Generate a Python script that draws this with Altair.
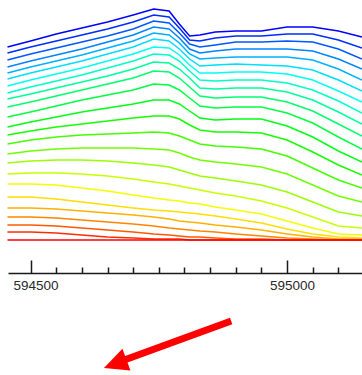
import altair as alt
import pandas as pd
import colorsys

# Easting positions (m) at which each contour trace was read
easting = [594455, 594500, 594550, 594600, 594650, 594700, 594740, 594770, 594790,
           594810, 594830, 594860, 594900, 594950, 595000, 595050, 595100, 595146]

# Depth of each trace (top = 1st) at the eastings above
c01 = [47, 41, 34, 28, 22, 15, 9, 11, 24, 36, 35, 32, 31, 31, 27, 27, 31, 37]
c02 = [53, 47, 41, 35, 29, 22, 15, 17, 28, 40, 41, 38, 36, 36, 34, 34, 40, 48]
c03 = [60, 54, 48, 42, 36, 29, 21, 23, 33, 44, 47, 45, 42, 42, 41, 42, 49, 59]
c04 = [67, 61, 55, 49, 42, 35, 27, 29, 38, 49, 53, 51, 49, 49, 49, 51, 59, 69]
c05 = [73, 67, 61, 55, 48, 41, 33, 35, 43, 54, 59, 58, 57, 57, 57, 60, 69, 80]
c06 = [79, 73, 67, 61, 54, 47, 39, 41, 49, 59, 66, 65, 64, 65, 66, 70, 80, 91]
c07 = [86, 80, 74, 68, 61, 54, 47, 48, 55, 65, 73, 73, 72, 72, 74, 80, 91, 102]
c08 = [93, 87, 81, 75, 68, 61, 54, 55, 61, 71, 80, 81, 80, 80, 83, 90, 101, 113]
c09 = [99, 94, 88, 82, 76, 69, 62, 63, 69, 78, 88, 89, 88, 88, 92, 100, 112, 124]
c10 = [107, 102, 96, 90, 84, 78, 71, 72, 78, 87, 96, 98, 97, 97, 102, 111, 124, 136]
c11 = [117, 112, 106, 100, 95, 90, 84, 85, 90, 98, 106, 108, 107, 107, 113, 123, 137, 149]
c12 = [127, 122, 117, 112, 108, 104, 100, 100, 104, 111, 118, 120, 119, 119, 126, 137, 151, 162]
c13 = [135, 131, 127, 124, 121, 118, 116, 116, 119, 125, 130, 132, 132, 133, 140, 152, 165, 175]
c14 = [144, 140, 137, 135, 134, 133, 132, 133, 136, 140, 144, 146, 147, 149, 156, 168, 180, 188]
c15 = [154, 151, 149, 148, 148, 148, 149, 150, 153, 157, 160, 162, 164, 167, 174, 185, 196, 202]
c16 = [163, 161, 160, 160, 161, 163, 165, 167, 170, 173, 176, 178, 181, 185, 192, 202, 212, 216]
c17 = [174, 173, 173, 174, 176, 179, 182, 184, 186, 188, 190, 193, 196, 201, 208, 217, 226, 228]
c18 = [184, 184, 185, 188, 191, 195, 198, 200, 201, 203, 204, 207, 210, 214, 221, 228, 234, 235]
c19 = [197, 197, 199, 202, 205, 208, 210, 211, 212, 213, 214, 216, 219, 223, 229, 234, 237, 238]
c20 = [208, 208, 209, 211, 213, 215, 217, 219, 221, 222, 223, 225, 227, 230, 234, 237, 239, 239]
c21 = [217, 217, 218, 220, 222, 224, 226, 228, 229, 230, 231, 232, 234, 236, 238, 239, 240, 240]
c22 = [225, 225, 226, 228, 230, 232, 234, 235, 236, 237, 237, 238, 239, 239, 240, 240, 240, 240]
c23 = [232, 232, 233, 235, 237, 238, 239, 239, 239, 240, 240, 240, 240, 240, 240, 240, 240, 240]
c24 = [240, 240, 240, 240, 240, 240, 240, 240, 240, 240, 240, 240, 240, 240, 240, 240, 240, 240]

traces = [c01, c02, c03, c04, c05, c06, c07, c08, c09, c10, c11, c12,
          c13, c14, c15, c16, c17, c18, c19, c20, c21, c22, c23, c24]
names = [f"T{i + 1:02d}" for i in range(len(traces))]

# Arrow annotation (easting, depth): tail and neck, then tip
arrow_easting = [594891, 594672]
arrow_depth = [321, 362]
arrow_tip_easting = [594643]
arrow_tip_depth = [368]

tick_values = list(range(594500, 595101, 50))

# rainbow palette blue -> red
palette = []
n = len(traces)
for i in range(n):
    h = (240.0 * (1 - i / (n - 1))) / 360.0
    r, g, b = colorsys.hls_to_rgb(h, 0.5, 1.0)
    palette.append("#%02x%02x%02x" % (round(r * 255), round(g * 255), round(b * 255)))

rows = []
for name, tr in zip(names, traces):
    for x, d in zip(easting, tr):
        rows.append({"x": x, "depth": d, "trace": name})
df = pd.DataFrame(rows)

arrow_df = pd.DataFrame({"x": arrow_easting, "depth": arrow_depth})
tip_df = pd.DataFrame({"x": arrow_tip_easting, "depth": arrow_tip_depth})

xscale = alt.Scale(domain=[594456, 595146], nice=False, zero=False)
yscale = alt.Scale(domain=[0, 273], reverse=True, nice=False, zero=False)

xaxis = alt.Axis(
    values=tick_values,
    format="d",
    labelExpr="datum.value % 500 === 0 ? datum.label : ''",
    tickSize={"condition": {"test": "datum.value % 500 === 0", "value": -13}, "value": -6},
    tickColor="#1a1a1a",
    tickWidth=1.5,
    domainColor="#1a1a1a",
    domainWidth=1.5,
    labelFont="Liberation Sans",
    labelFontSize=13.5,
    labelColor="#2a2a2a",
    labelPadding=18,
    labelOffset=5,
    labelOverlap=False,
    labelFlush=False,
    grid=False,
    title=None,
)

lines = alt.Chart(df).mark_line(strokeWidth=1.5).encode(
    x=alt.X("x:Q", scale=xscale, axis=xaxis),
    y=alt.Y("depth:Q", scale=yscale, axis=None),
    color=alt.Color("trace:N", scale=alt.Scale(domain=names, range=palette), legend=None),
)

shaft = alt.Chart(arrow_df).mark_line(color="#ff0000", strokeWidth=7, strokeCap="butt", clip=False).encode(
    x=alt.X("x:Q", scale=xscale, axis=xaxis),
    y=alt.Y("depth:Q", scale=yscale, axis=None),
)

head = alt.Chart(tip_df).mark_point(
    shape="M0,0L2,-0.96L2,0.96Z", size=576, angle=339.7, filled=True,
    color="#ff0000", opacity=1, clip=False
).encode(
    x=alt.X("x:Q", scale=xscale, axis=xaxis),
    y=alt.Y("depth:Q", scale=yscale, axis=None),
)

chart = alt.layer(lines, shaft, head).properties(
    width=354, height=273,
    padding={"left": 8, "top": 0, "right": 0, "bottom": 102},
    autosize=alt.AutoSizeParams(type="none"),
    background="white",
).configure_view(stroke=None)

chart.save("out.html", embed_options={"renderer": "svg", "actions": False})
